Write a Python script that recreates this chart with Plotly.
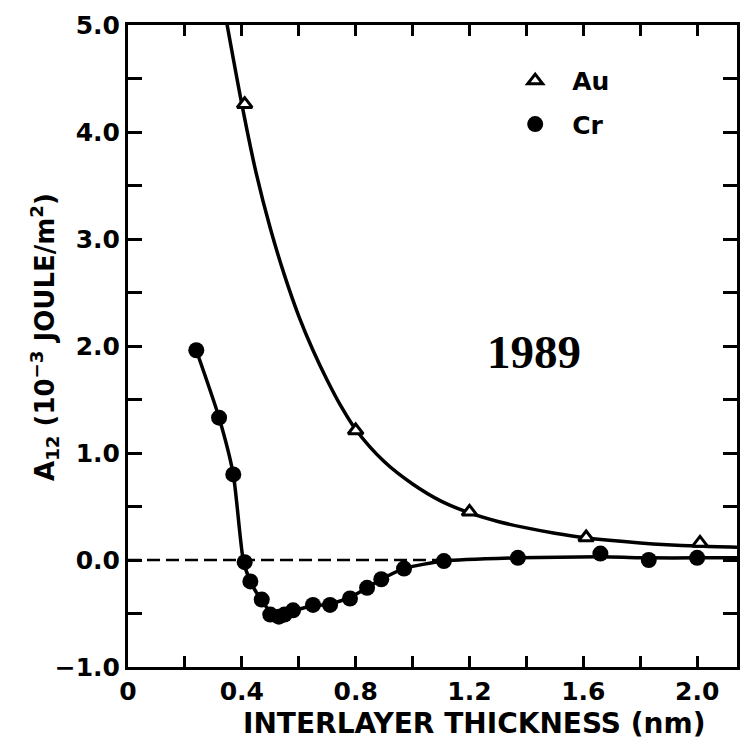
import plotly.graph_objects as go

# ---- data ----
x_tick_vals = [0, 0.4, 0.8, 1.2, 1.6, 2.0]
x_tick_text = ["0", "0.4", "0.8", "1.2", "1.6", "2.0"]
x_minor_step = 0.2
y_tick_vals = [-1, 0, 1, 2, 3, 4, 5]
y_tick_text = ["\u22121.0", "0.0", "1.0", "2.0", "3.0", "4.0", "5.0"]
y_minor_step = 0.5

# Au (triangles)
au_x = [0.41, 0.80, 1.20, 1.61, 2.01]
au_y = [4.26, 1.21, 0.45, 0.21, 0.16]
# Au fitted curve
au_curve_x = [0.345, 0.40, 0.45, 0.50, 0.55, 0.60, 0.65, 0.70, 0.75, 0.80,
              0.90, 1.00, 1.10, 1.20, 1.30, 1.40, 1.50, 1.60, 1.80, 2.00, 2.14]
au_curve_y = [5.05, 4.26, 3.62, 3.10, 2.66, 2.28, 1.96, 1.68, 1.43, 1.22,
              0.92, 0.71, 0.55, 0.44, 0.36, 0.30, 0.25, 0.21, 0.16, 0.13, 0.12]

# Cr (filled circles)
cr_x = [0.24, 0.32, 0.37, 0.41, 0.43, 0.47, 0.50, 0.53, 0.55, 0.58, 0.65,
        0.71, 0.78, 0.84, 0.89, 0.97, 1.11, 1.37, 1.66, 1.83, 2.00]
cr_y = [1.96, 1.33, 0.80, -0.02, -0.20, -0.37, -0.51, -0.53, -0.51, -0.47, -0.42,
        -0.42, -0.36, -0.26, -0.18, -0.08, -0.01, 0.02, 0.06, 0.00, 0.02]
# Cr fitted curve
cr_curve_x = [0.24, 0.32, 0.37, 0.405, 0.43, 0.47, 0.51, 0.55, 0.60, 0.65,
              0.71, 0.78, 0.84, 0.89, 0.97, 1.11, 1.37, 1.66, 1.83, 2.00, 2.14]
cr_curve_y = [1.96, 1.33, 0.80, 0.00, -0.20, -0.38, -0.51, -0.51, -0.46, -0.43,
              -0.41, -0.35, -0.26, -0.18, -0.08, -0.01, 0.02, 0.03, 0.02, 0.02, 0.02]

zero_line_x = [0.0, 1.1]

FONT = "DejaVu Sans"

fig = go.Figure()

fig.add_trace(go.Scatter(
    x=au_curve_x, y=au_curve_y, mode="lines",
    line=dict(color="black", width=3.5, shape="spline", smoothing=0.8),
    showlegend=False, hoverinfo="skip"))
fig.add_trace(go.Scatter(
    x=cr_curve_x, y=cr_curve_y, mode="lines",
    line=dict(color="black", width=3.5, shape="spline", smoothing=0.6),
    showlegend=False, hoverinfo="skip"))
fig.add_trace(go.Scatter(
    x=au_x, y=au_y, mode="markers", name="Au", legendgroup="au",
    marker=dict(symbol="triangle-up", size=13, color="white",
                line=dict(color="black", width=3))))
fig.add_trace(go.Scatter(
    x=cr_x, y=cr_y, mode="markers", name="Cr", legendgroup="cr",
    marker=dict(symbol="circle", size=16, color="black",
                line=dict(color="black", width=0))))

fig.add_shape(type="line", xref="x", yref="y",
              x0=zero_line_x[0], x1=zero_line_x[1], y0=0, y1=0,
              line=dict(color="black", width=2.5, dash="13px,6px"),
              layer="below")

axis_common = dict(
    showline=True, linewidth=3, linecolor="black", mirror="allticks",
    ticks="inside", tickwidth=2.5, tickcolor="black",
    showgrid=False, zeroline=False,
    tickfont=dict(family=FONT, size=25, color="black", weight="bold"),
)

fig.update_xaxes(range=[0, 2.14], tickmode="array",
                 tickvals=x_tick_vals, ticktext=x_tick_text, ticklen=11,
                 minor=dict(tick0=0, dtick=x_minor_step, ticks="inside",
                            ticklen=11, tickwidth=2.5, tickcolor="black",
                            showgrid=False),
                 **axis_common)
fig.update_yaxes(range=[-1, 5], tickmode="array",
                 tickvals=y_tick_vals, ticktext=y_tick_text, ticklen=14,
                 minor=dict(tick0=0, dtick=y_minor_step, ticks="inside",
                            ticklen=14, tickwidth=2.5, tickcolor="black",
                            showgrid=False),
                 **axis_common)

fig.add_annotation(
    text="A<sub>12</sub> (10<sup>\u22123</sup> JOULE/m<sup>2</sup>)",
    xref="paper", yref="paper", x=(44 - 128) / 612, y=(667 - 335) / 645,
    xanchor="center", yanchor="middle", textangle=-90, showarrow=False,
    font=dict(family=FONT, size=26, color="black", weight="bold"))
fig.add_annotation(
    text="INTERLAYER THICKNESS (nm)",
    xref="paper", yref="paper", x=(476 - 128) / 612, y=(667 - 724) / 645,
    xanchor="center", yanchor="middle", showarrow=False,
    font=dict(family=FONT, size=28, color="black", weight="bold"))
fig.add_annotation(
    text="1989", xref="paper", yref="paper",
    x=(536 - 128) / 612, y=(667 - 351) / 645,
    xanchor="center", yanchor="middle", showarrow=False,
    font=dict(family="Liberation Serif", size=47, color="black", weight="bold"))

fig.update_layout(
    width=751, height=749,
    margin=dict(l=128, r=11, t=22, b=82),
    paper_bgcolor="white", plot_bgcolor="white",
    showlegend=True,
    legend=dict(x=(500 - 128) / 612, y=(667 - 55) / 645,
                xanchor="left", yanchor="top",
                bgcolor="rgba(0,0,0,0)", borderwidth=0,
                font=dict(family=FONT, size=25, color="black", weight="bold"),
                tracegroupgap=8, itemwidth=64),
)

fig.write_html("out.html")
